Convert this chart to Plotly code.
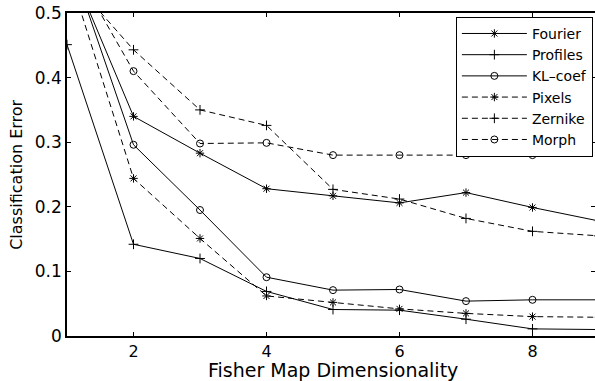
import plotly.graph_objects as go

dims = [1, 2, 3, 4, 5, 6, 7, 8, 9]
fourier = [0.585, 0.340, 0.283, 0.228, 0.217, 0.206, 0.222, 0.199, 0.178]
profiles = [0.451, 0.142, 0.120, 0.069, 0.041, 0.040, 0.026, 0.011, 0.010]
kl_coef = [0.596, 0.296, 0.195, 0.091, 0.071, 0.072, 0.054, 0.056, 0.056]
pixels = [0.570, 0.244, 0.151, 0.062, 0.052, 0.042, 0.035, 0.030, 0.029]
zernike = [0.560, 0.443, 0.350, 0.326, 0.227, 0.212, 0.182, 0.162, 0.155]
morph = [0.590, 0.410, 0.298, 0.299, 0.280, 0.280, 0.280, 0.280, 0.280]

series_names = ["Fourier", "Profiles", "KL\u2013coef", "Pixels", "Zernike", "Morph"]
series_values = [fourier, profiles, kl_coef, pixels, zernike, morph]
series_dash = ["solid", "solid", "solid", "6px,4px", "6px,4px", "6px,4px"]
series_symbol = ["asterisk-open", "cross-thin-open", "circle-open",
                 "asterisk-open", "cross-thin-open", "circle-open"]
series_msize = [7, 7, 7, 7, 7, 7]

x_ticks = [2, 4, 6, 8]
y_ticks = [0, 0.1, 0.2, 0.3, 0.4, 0.5]
y_ticklabels = ["0", "0.1", "0.2", "0.3", "0.4", "0.5"]
x_title = "Fisher Map Dimensionality"
y_title = "Classification Error"

FONT = "DejaVu Sans"

fig = go.Figure()
for name, vals, dash, sym, ms in zip(series_names, series_values, series_dash,
                                      series_symbol, series_msize):
    fig.add_trace(go.Scatter(
        x=dims, y=vals, name=name, mode="lines+markers",
        line=dict(color="black", width=1, dash=dash),
        marker=dict(symbol=sym, size=ms, color="black",
                    line=dict(color="black", width=1)),
        cliponaxis=True,
    ))

fig.update_layout(
    width=595, height=381,
    margin=dict(l=67, r=0, t=13, b=45, autoexpand=False),
    paper_bgcolor="white", plot_bgcolor="white",
    font=dict(family=FONT, color="black", size=17),
    showlegend=True,
    legend=dict(
        x=0.996, y=0.988, xanchor="right", yanchor="top",
        bgcolor="white", bordercolor="black", borderwidth=1,
        font=dict(family=FONT, size=14, color="black"),
        itemwidth=65, tracegroupgap=0,
    ),
    xaxis=dict(
        range=[1, 8.94], tickvals=x_ticks, ticks="inside", ticklen=4,
        tickcolor="black", showline=True, linecolor="black", linewidth=1.5,
        mirror="ticks", showgrid=False, zeroline=False, automargin=False,
        ticklabeloverflow="allow",
        tickfont=dict(family=FONT, size=16),
    ),
    yaxis=dict(
        range=[0, 0.5], tickvals=y_ticks, ticktext=y_ticklabels,
        ticks="inside", ticklen=4, tickcolor="black",
        showline=True, linecolor="black", linewidth=1.5,
        mirror="ticks", showgrid=False, zeroline=False, automargin=False,
        ticklabeloverflow="allow",
        tickfont=dict(family=FONT, size=17),
    ),
    annotations=[
        dict(text=x_title, xref="paper", yref="paper", x=0.504, y=-0.106,
             xanchor="center", yanchor="middle", showarrow=False,
             font=dict(family=FONT, size=19, color="black")),
        dict(text=y_title, xref="paper", yref="paper", x=-0.096, y=0.5,
             xanchor="center", yanchor="middle", showarrow=False, textangle=-90,
             font=dict(family=FONT, size=16, color="black")),
    ],
)

# remove the browser's default 8px page margin so the figure fills the window
fig.write_html("out.html", config={"displayModeBar": False},
               post_script="document.body.style.margin='0px';")
